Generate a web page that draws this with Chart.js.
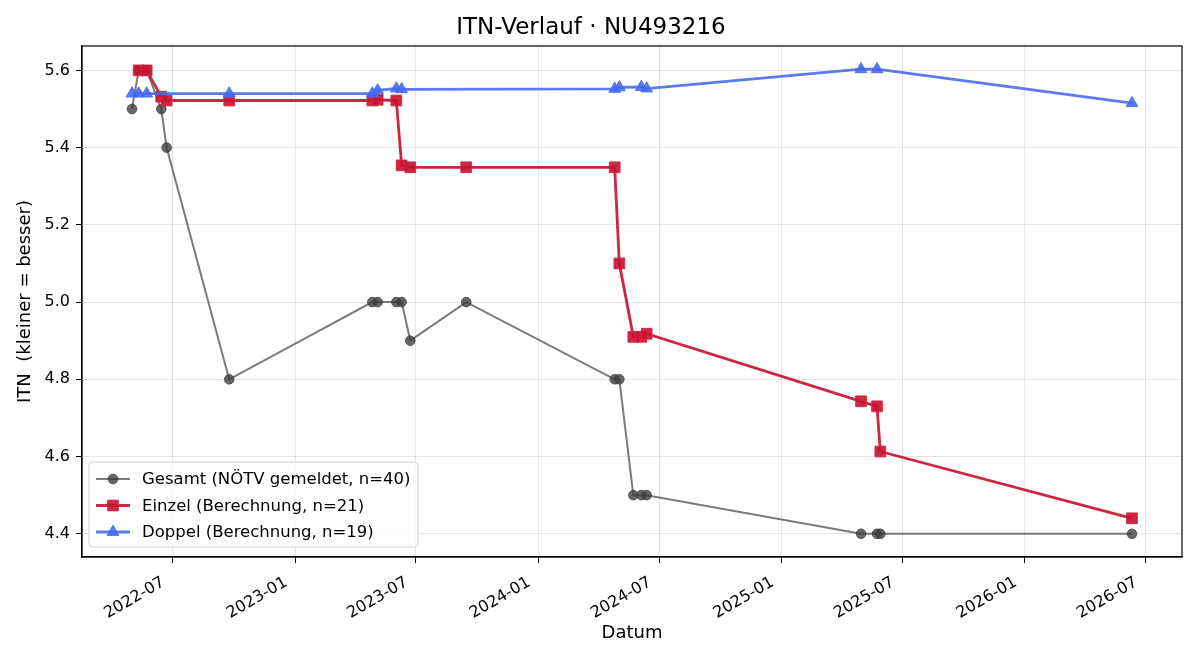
<!DOCTYPE html>
<html>
<head>
<meta charset="utf-8">
<script src="https://cdn.jsdelivr.net/npm/chart.js@4.4.1/dist/chart.umd.min.js"></script>
<style>
  html, body { margin: 0; padding: 0; background: #fff; }
  #wrap { width: 1200px; height: 660px; }
</style>
</head>
<body>
<div id="wrap"><canvas id="itn-chart" width="1200" height="660"></canvas></div>
<script>
// ---- data ----
const gesamtDates = ['2022-05-01', '2022-05-11', '2022-05-23', '2022-06-14', '2022-06-22', '2022-09-24',
  '2023-04-27', '2023-05-05', '2023-06-02', '2023-06-10', '2023-06-23', '2023-09-15',
  '2024-04-25', '2024-05-02', '2024-05-23', '2024-06-04', '2024-06-12',
  '2025-04-30', '2025-05-24', '2025-05-29', '2026-06-11'];
const gesamtValues = [5.5, 5.6, 5.6, 5.5, 5.4, 4.8,
  5.0, 5.0, 5.0, 5.0, 4.9, 5.0,
  4.8, 4.8, 4.5, 4.5, 4.5,
  4.4, 4.4, 4.4, 4.4];

const einzelDates = ['2022-05-11', '2022-05-23', '2022-06-14', '2022-06-22', '2022-09-24',
  '2023-04-27', '2023-05-05', '2023-06-02', '2023-06-10', '2023-06-23', '2023-09-15',
  '2024-04-25', '2024-05-02', '2024-05-23', '2024-06-04', '2024-06-12',
  '2025-04-30', '2025-05-24', '2025-05-29', '2026-06-11'];
const einzelValues = [5.6, 5.6, 5.532, 5.522, 5.522,
  5.522, 5.524, 5.522, 5.354, 5.349, 5.349,
  5.349, 5.10, 4.91, 4.91, 4.918,
  4.743, 4.730, 4.613, 4.440];

const doppelDates = ['2022-05-01', '2022-05-11', '2022-05-23', '2022-09-24',
  '2023-04-27', '2023-05-05', '2023-06-02', '2023-06-10',
  '2024-04-25', '2024-05-02', '2024-06-04', '2024-06-12',
  '2025-04-30', '2025-05-24', '2026-06-11'];
const doppelValues = [5.54, 5.54, 5.54, 5.54,
  5.54, 5.548, 5.553, 5.551,
  5.552, 5.556, 5.557, 5.553,
  5.603, 5.603, 5.515];

const xTickLabels = ['2022-07', '2023-01', '2023-07', '2024-01', '2024-07', '2025-01', '2025-07', '2026-01', '2026-07'];
const yTickValues = [4.4, 4.6, 4.8, 5.0, 5.2, 5.4, 5.6];

const FONT = "'DejaVu Sans', sans-serif";

function toMs(s) {
  const p = s.split('-').map(Number);
  return Date.UTC(p[0], p[1] - 1, p[2] || 1);
}

function points(dates, vals) {
  return dates.map((d, i) => ({ x: toMs(d), y: vals[i] }));
}

// matplotlib-like 5% margins
const allX = gesamtDates.concat(einzelDates, doppelDates).map(toMs);
const allY = gesamtValues.concat(einzelValues, doppelValues);
const xMinD = Math.min(...allX), xMaxD = Math.max(...allX);
const yMinD = Math.min(...allY), yMaxD = Math.max(...allY);
const xPad = (xMaxD - xMinD) * 0.05, yPad = (yMaxD - yMinD) * 0.05;

// frame + legend inside the plot, lower left
const framePlugin = {
  id: 'frame',
  afterDraw(chart) {
    const { ctx, chartArea: a } = chart;
    ctx.save();
    ctx.strokeStyle = '#000';
    ctx.lineWidth = 1.2;
    ctx.strokeRect(a.left, a.top, a.right - a.left, a.bottom - a.top);

    // legend box
    const bx = a.left + 7, by = a.bottom - 95, bw = 329, bh = 85;
    ctx.beginPath();
    ctx.roundRect(bx, by, bw, bh, 4);
    ctx.fillStyle = 'rgba(255,255,255,0.8)';
    ctx.fill();
    ctx.strokeStyle = '#d0d0d0';
    ctx.lineWidth = 1;
    ctx.stroke();

    const order = [0, 1, 2];
    order.forEach((idx, row) => {
      const ds = chart.data.datasets[idx];
      const cy = by + 17 + row * 26.5;
      ctx.beginPath();
      ctx.strokeStyle = ds.borderColor;
      ctx.lineWidth = ds.borderWidth;
      ctx.moveTo(bx + 7, cy);
      ctx.lineTo(bx + 41, cy);
      ctx.stroke();
      ctx.fillStyle = ds.pointBackgroundColor;
      ctx.strokeStyle = ds.pointBorderColor;
      ctx.lineWidth = 1;
      Chart.helpers.drawPoint(ctx, { pointStyle: ds.pointStyle, radius: ds.pointRadius, borderWidth: 1, rotation: 0 }, bx + 24, cy);
      ctx.fillStyle = '#000';
      ctx.font = '16.5px ' + FONT;
      ctx.textBaseline = 'middle';
      ctx.textAlign = 'left';
      ctx.fillText(ds.label, bx + 53, cy + 1);
    });
    ctx.restore();
  }
};

const ctx = document.getElementById('itn-chart');
new Chart(ctx, {
  type: 'line',
  data: {
    datasets: [
      {
        label: 'Gesamt (NÖTV gemeldet, n=40)',
        data: points(gesamtDates, gesamtValues),
        borderColor: 'rgba(85,85,85,0.78)',
        borderWidth: 2,
        pointStyle: 'circle',
        pointRadius: 4.8,
        pointBackgroundColor: 'rgba(60,60,60,0.78)',
        pointBorderColor: 'rgba(60,60,60,0.78)',
        pointBorderWidth: 1,
        order: 3
      },
      {
        label: 'Einzel (Berechnung, n=21)',
        data: points(einzelDates, einzelValues),
        borderColor: 'rgba(200,20,50,0.92)',
        borderWidth: 2.8,
        pointStyle: 'rect',
        pointRadius: 7.6,
        pointBackgroundColor: 'rgba(200,20,50,0.92)',
        pointBorderColor: 'rgba(210,40,70,0.92)',
        pointBorderWidth: 1,
        order: 2
      },
      {
        label: 'Doppel (Berechnung, n=19)',
        data: points(doppelDates, doppelValues),
        borderColor: 'rgba(70,105,240,0.88)',
        borderWidth: 2.8,
        pointStyle: 'triangle',
        pointRadius: 6.8,
        pointBackgroundColor: 'rgba(70,105,240,0.88)',
        pointBorderColor: 'rgba(70,105,240,0.88)',
        pointBorderWidth: 1,
        order: 1
      }
    ]
  },
  options: {
    responsive: false,
    animation: false,
    devicePixelRatio: 1,
    layout: { padding: { left: 0, right: 18, top: 0, bottom: 0 } },
    elements: { line: { tension: 0 } },
    plugins: {
      legend: { display: false },
      tooltip: { enabled: false },
      title: {
        display: true,
        text: 'ITN-Verlauf · NU493216',
        color: '#000',
        font: { family: FONT, size: 23, weight: 'normal' },
        padding: { top: 14.2, bottom: 4.2 }
      }
    },
    scales: {
      x: {
        type: 'linear',
        min: xMinD - xPad,
        max: xMaxD + xPad,
        afterBuildTicks(scale) {
          scale.ticks = xTickLabels.map(l => ({ value: toMs(l) }));
        },
        afterFit(scale) { scale.height = 103; },
        ticks: {
          autoSkip: false,
          minRotation: 30,
          maxRotation: 30,
          padding: 10,
          labelOffset: -9,
          color: '#000',
          font: { family: FONT, size: 16 },
          callback(v) {
            const d = new Date(v);
            return d.getUTCFullYear() + '-' + String(d.getUTCMonth() + 1).padStart(2, '0');
          }
        },
        grid: { color: 'rgba(0,0,0,0.1)', tickColor: '#000', tickLength: 6 },
        border: { color: '#000', width: 1.2 },
        title: {
          display: true,
          text: 'Datum',
          color: '#000',
          font: { family: FONT, size: 18 },
          padding: { top: 0, bottom: 16 }
        }
      },
      y: {
        type: 'linear',
        min: yMinD - yPad,
        max: yMaxD + yPad,
        afterBuildTicks(scale) {
          scale.ticks = yTickValues.map(v => ({ value: v }));
        },
        afterFit(scale) { scale.width = 82; },
        ticks: {
          padding: 6,
          color: '#000',
          font: { family: FONT, size: 16 },
          callback(v) { return v.toFixed(1); }
        },
        grid: { color: 'rgba(0,0,0,0.1)', tickColor: '#000', tickLength: 6 },
        border: { color: '#000', width: 1.2 },
        title: {
          display: true,
          text: 'ITN  (kleiner = besser)',
          color: '#000',
          font: { family: FONT, size: 18 },
          padding: { top: 15, bottom: 0 }
        }
      }
    }
  },
  plugins: [framePlugin]
});
</script>
</body>
</html>
